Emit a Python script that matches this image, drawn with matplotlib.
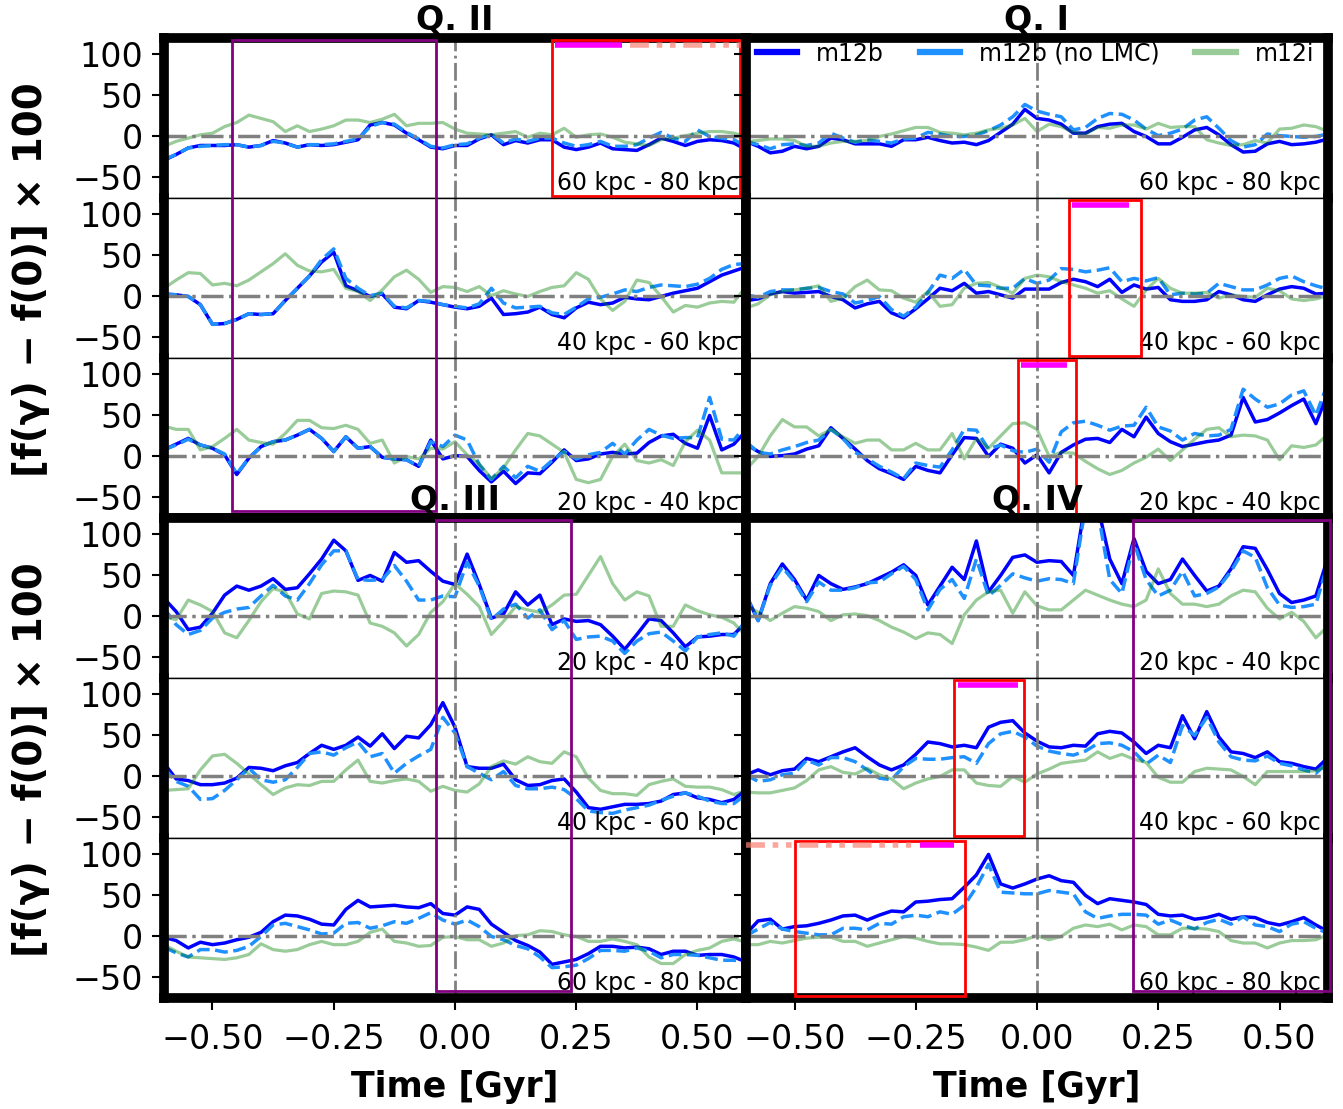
import numpy as np
import matplotlib
matplotlib.use('Agg')
import matplotlib.pyplot as plt
from matplotlib.patches import Rectangle

time = np.round(np.linspace(-0.6, 0.6, 49), 3)

# Q. II
q2_6080_b = [-29, -22, -14, -11, -11, -11, -10, -13, -11, -5, -8, -13, -10, -11, -10, -7, -4, 14, 17, 14, 4, -4, -13, -15, -11, -11, -3, 2, -10, -5, -8, -4, -4, -13, -16, -13, -8, -15, -16, -17, -10, -2, -6, -11, -6, -4, -5, -8, -16]
q2_6080_n = [-28, -22, -14, -12, -11, -10, -10, -13, -11, -6, -8, -13, -10, -10, -9, -6, -3, 12, 17, 15, 5, -3, -12, -14, -10, -9, -2, 3, -8, -3, -6, -2, -2, -8, -12, -10, -6, -12, -12, -10, -2, 5, -2, -6, 8, 0, -2, -4, -12]
q2_6080_i = [-12, -6, -2, 2, 4, 12, 17, 26, 22, 18, 6, 13, 6, 9, 13, 20, 20, 17, 21, 27, 13, 16, 16, 17, 9, 4, 3, 2, 4, 6, -1, 4, 2, 10, -1, 2, 3, -1, -7, -9, -11, -4, -2, 1, 4, 6, 6, 4, 0]

q2_4060_b = [3, 2, 0, -10, -34, -33, -28, -21, -22, -21, -5, 10, 25, 42, 54, 13, 7, 0, 3, -13, -15, -5, -7, -10, -13, -15, -12, -2, -22, -21, -19, -13, -22, -26, -14, -7, -10, -8, -1, -3, -4, 0, 4, 7, 10, 18, 26, 31, 36]
q2_4060_n = [3, 2, 0, -10, -34, -33, -28, -21, -22, -21, -5, 10, 25, 45, 58, 22, 10, 1, 4, -12, -14, -5, -6, -10, -12, -14, -9, 10, -8, -14, -13, -12, -20, -22, -13, -3, -1, 3, 8, 6, 11, 14, 13, 12, 15, 22, 33, 39, 40]
q2_4060_i = [10, 20, 29, 28, 14, 16, 13, 20, 30, 40, 52, 38, 31, 30, 33, 10, 6, -5, 8, 24, 32, 21, 5, 12, 11, 6, 12, 1, 7, 3, 0, 6, 11, 13, 29, 21, -3, -17, -6, 20, 17, 0, -19, -11, -13, -8, -6, -7, 12]

q2_2040_b = [8, 15, 22, 14, 10, 2, -22, -2, 12, 18, 20, 26, 33, 22, 6, 24, 10, 12, -1, -3, -4, -12, 20, -3, 1, 0, -17, -31, -18, -33, -20, -21, -7, 8, -5, -3, 3, 5, 3, 4, 17, 25, 27, 16, 10, 50, 8, 15, 31]
q2_2040_n = [8, 14, 21, 14, 10, 3, -21, -2, 12, 18, 20, 26, 33, 22, 6, 24, 10, 12, -1, -3, -4, -12, 18, 12, 26, 20, -10, -28, -12, -26, -12, -18, -5, 6, -3, 2, 5, 16, 3, 20, 33, 26, 22, 23, 23, 72, 21, 20, 38]
q2_2040_i = [37, 33, 33, 8, 12, 22, 33, 20, 17, 15, 28, 44, 44, 35, 34, 38, 33, 16, 20, -8, 0, -3, 10, 9, 18, 2, -9, -27, -14, 8, 28, 25, 15, 5, -28, -32, -28, 0, 15, -5, -8, -4, -11, 18, 32, 20, -20, -20, -20]

# Q. I
q1_6080_b = [-6, -12, -20, -18, -12, -15, -12, -2, -4, -9, -9, -9, -12, -4, -4, -1, -5, -8, -7, -10, -5, 5, 15, 33, 22, 20, 15, 4, 4, 12, 15, 16, 6, 0, -9, -9, -1, 8, 11, 2, -10, -19, -18, -9, -6, -10, -9, -7, -3]
q1_6080_n = [-6, -10, -15, -10, -9, -11, -8, 4, -2, -7, -4, -6, -8, -3, -2, 5, 3, 0, 0, 2, 7, 14, 24, 39, 31, 27, 24, 8, 11, 22, 28, 27, 20, 9, 1, 4, 9, 20, 24, 10, -5, -13, -10, 3, 1, 0, -1, 0, 3]
q1_6080_i = [-6, -5, -3, -3, -5, -12, -12, -8, -6, -6, -5, 0, 3, 7, 11, 11, 5, 4, 2, 4, 8, 10, 14, 22, 6, 15, 12, 5, 3, 11, 10, 14, 14, 9, 16, 11, 12, 12, -4, -8, -11, -10, -5, -8, 9, 10, 14, 12, 6]

q1_4060_b = [-5, -3, 3, 6, 4, 5, 6, 0, -4, -14, -9, -6, -20, -26, -15, -3, 10, 7, 16, 4, 6, 2, -2, 9, 9, 9, 17, 21, 18, 12, 21, 5, 14, 9, 11, -4, -6, -6, -4, 6, 2, -4, -6, 2, 9, 12, 10, 3, 4]
q1_4060_n = [2, -1, 6, 8, 8, 10, 11, 6, 3, -8, -5, 0, -16, -24, -13, 5, 26, 22, 33, 14, 13, 10, 10, 22, 16, 20, 34, 33, 30, 32, 35, 18, 22, 19, 23, 2, 4, 3, 4, 16, 12, 8, 8, 14, 22, 25, 18, 13, 9]
q1_4060_i = [-14, -9, 2, 6, 8, 10, 13, -6, -2, 12, 20, 8, 7, -2, -7, 6, -12, -10, 10, 16, 17, 11, 4, 22, 26, 24, 18, 14, 10, 4, 7, -3, -12, 8, 22, 10, 4, 4, 5, -2, 2, 0, -1, 10, 7, -3, -5, -3, 1]

q1_2040_b = [15, 6, 0, 1, 3, 9, 13, 35, 22, 9, -5, -15, -21, -28, -12, -17, -20, 2, 23, 22, 0, 15, 10, -8, 2, -20, 5, 14, 21, 22, 17, 33, 24, 48, 28, 18, 12, 15, 18, 20, 26, 72, 42, 45, 53, 62, 70, 40, 78]
q1_2040_n = [18, 5, 3, 8, 12, 17, 20, 33, 22, 5, -3, -12, -19, -27, -8, -11, -13, 8, 33, 32, 9, 14, 7, 5, 9, -7, 30, 41, 43, 38, 32, 37, 38, 60, 36, 31, 20, 28, 25, 26, 33, 82, 70, 60, 64, 75, 80, 50, 90]
q1_2040_i = [-16, 0, 25, 45, 36, 36, 25, 33, 24, 16, 20, 20, 8, 8, 16, 8, 8, 28, -3, 22, 10, 25, 40, 41, 33, 0, 5, 4, -6, -15, -22, -17, -8, -1, 9, -5, 8, 21, 33, 35, 24, 26, 25, 20, -4, 13, 11, 14, 27]

# Q. III
q3_2040_b = [22, 6, -16, -13, 4, 26, 37, 32, 37, 46, 33, 35, 52, 70, 93, 80, 44, 50, 43, 78, 66, 68, 55, 43, 39, 76, 39, -2, 3, 30, 14, 26, -10, -3, -6, -5, -10, -24, -40, -22, -3, -5, -20, -37, -25, -24, -22, -22, -7]
q3_2040_n = [10, -10, -22, -17, -2, 5, 9, 11, 25, 38, 25, 20, 40, 63, 80, 80, 45, 44, 45, 62, 43, 20, 20, 25, 24, 66, 37, -4, 9, 15, -2, 8, -16, -5, -28, -25, -24, -30, -45, -30, -21, -19, -30, -42, -25, -22, -20, -24, -5]
q3_2040_i = [0, -4, 20, 14, 6, -20, -26, -5, 18, 34, 30, 3, -3, 28, 31, 30, 26, -8, -12, -20, -36, -22, 5, 18, 40, 27, 12, -22, -6, 12, 8, 5, 14, 26, 27, 50, 73, 40, 20, 30, 25, -12, -12, 14, 7, 2, -1, -8, -24]

q3_4060_b = [16, -3, -5, -10, -10, -8, -2, 11, 10, 7, 13, 17, 28, 38, 33, 38, 48, 37, 52, 34, 49, 47, 63, 90, 60, 12, 10, 10, 15, -4, -11, -10, -5, -3, -19, -38, -40, -37, -34, -34, -33, -30, -22, -20, -26, -28, -32, -28, -16]
q3_4060_n = [10, -6, -12, -28, -27, -17, -4, 10, -4, -7, -4, 11, 28, 30, 26, 35, 42, 24, 28, 4, 16, 25, 33, 72, 53, 12, 4, -4, 6, -11, -15, -15, -13, -16, -27, -42, -44, -45, -41, -38, -35, -29, -24, -20, -24, -30, -33, -33, -22]
q3_4060_i = [-17, -16, -15, 8, 25, 27, 16, 3, -10, -22, -14, -10, -11, -6, -6, 8, 20, -6, -8, -5, -3, -6, -18, -12, -17, -19, -9, 12, 19, 15, 24, 18, 16, 30, 24, -2, -17, -21, -21, -23, -10, -6, -3, -12, -13, -13, -16, -22, -17]

q3_6080_b = [-1, -5, -14, -7, -10, -8, -4, -1, 5, 18, 26, 25, 21, 15, 14, 33, 44, 36, 37, 38, 36, 35, 40, 28, 26, 36, 33, 15, 5, -5, -11, -19, -34, -31, -28, -21, -12, -12, -14, -13, -15, -22, -18, -18, -23, -22, -22, -25, -31]
q3_6080_n = [-13, -20, -25, -16, -16, -19, -17, -12, 0, 14, 16, 12, 8, 3, 4, 16, 17, 10, 13, 18, 16, 22, 29, 20, 15, 20, 12, 0, -4, -11, -15, -25, -38, -37, -35, -27, -17, -17, -18, -14, -18, -26, -22, -22, -23, -26, -29, -29, -31]
q3_6080_i = [-10, -18, -25, -26, -27, -28, -26, -22, -9, -16, -18, -16, -10, -6, -10, -10, -6, 5, 9, -6, -8, -12, -11, -1, 0, -4, -4, -12, -8, 1, 2, 7, 6, 2, 0, -6, -6, -3, -6, -10, -25, -33, -33, -22, -17, -14, -6, -3, -7]

# Q. IV
q4_2040_b = [26, -5, 40, 64, 45, 20, 50, 40, 33, 36, 40, 47, 54, 63, 50, 14, 37, 60, 45, 92, 30, 50, 72, 75, 66, 68, 67, 50, 140, 135, 70, 40, 95, 55, 40, 45, 70, 50, 31, 37, 58, 85, 83, 57, 28, 17, 20, 25, 72]
q4_2040_n = [26, -5, 38, 60, 42, 18, 42, 32, 32, 35, 41, 42, 52, 61, 45, 8, 33, 45, 22, 70, 25, 38, 52, 47, 43, 46, 45, 40, 135, 130, 45, 28, 90, 45, 25, 32, 55, 25, 28, 36, 55, 80, 72, 35, 14, 11, 12, 15, 65]
q4_2040_i = [14, 5, -5, 4, 12, 10, 6, -5, 2, 3, 1, -5, -13, -19, -27, -20, -22, -33, 2, 20, 30, 32, 4, 30, 13, 8, 8, 20, 32, 26, 20, 15, 12, 20, 58, 28, 15, 15, 12, 15, 25, 32, 30, 10, -3, 5, -6, -26, -12]

q4_4060_b = [2, 8, 2, 7, 9, 22, 18, 24, 30, 35, 24, 14, 8, 14, 27, 42, 40, 36, 38, 35, 60, 66, 68, 53, 43, 36, 35, 38, 37, 52, 55, 53, 42, 28, 38, 35, 74, 46, 79, 48, 30, 28, 23, 30, 18, 16, 12, 9, 23]
q4_4060_n = [2, -6, -4, 2, 4, 20, 14, 23, 23, 18, 8, -2, -4, 12, 22, 21, 21, 23, 24, 16, 40, 52, 55, 48, 37, 31, 28, 26, 31, 40, 41, 38, 30, 15, 26, 17, 62, 50, 72, 42, 24, 20, 19, 25, 16, 13, 8, 4, 17]
q4_4060_i = [-19, -20, -20, -17, -14, -5, 8, 12, 5, 3, 10, 2, -3, -15, -8, -3, 0, 8, 8, -8, -11, -12, 0, -7, 3, 9, 16, 18, 20, 30, 22, 27, 21, 17, -1, -7, -7, 6, 10, 9, 8, 0, -10, 6, 6, 6, 6, 7, 13]

q4_6080_b = [3, 19, 21, 9, 12, 13, 16, 20, 25, 26, 20, 26, 31, 30, 42, 43, 45, 46, 60, 75, 100, 64, 59, 64, 70, 74, 68, 66, 50, 40, 46, 44, 42, 39, 27, 25, 26, 21, 23, 27, 21, 24, 23, 17, 14, 18, 23, 14, 6]
q4_6080_n = [1, 9, 17, 9, 6, 4, 2, 2, 10, 10, 8, 16, 15, 24, 26, 24, 30, 27, 38, 60, 88, 54, 53, 52, 52, 56, 54, 52, 30, 22, 25, 27, 27, 26, 15, 20, 14, 9, 17, 21, 15, 24, 14, 12, 6, 15, 18, 10, 4]
q4_6080_i = [-10, -10, -6, -8, -5, -2, -1, -1, -6, -6, -12, -8, -4, 0, -2, -6, -9, -9, -10, -13, -17, -7, -7, -4, 1, -4, 0, 10, 14, 12, 15, 8, 14, 12, 2, 2, 10, 10, 9, 6, -5, -8, -8, -14, -8, -5, -5, -4, 2]

rows = [
    ['60 kpc - 80 kpc', (q2_6080_b, q2_6080_n, q2_6080_i), (q1_6080_b, q1_6080_n, q1_6080_i)],
    ['40 kpc - 60 kpc', (q2_4060_b, q2_4060_n, q2_4060_i), (q1_4060_b, q1_4060_n, q1_4060_i)],
    ['20 kpc - 40 kpc', (q2_2040_b, q2_2040_n, q2_2040_i), (q1_2040_b, q1_2040_n, q1_2040_i)],
    ['20 kpc - 40 kpc', (q3_2040_b, q3_2040_n, q3_2040_i), (q4_2040_b, q4_2040_n, q4_2040_i)],
    ['40 kpc - 60 kpc', (q3_4060_b, q3_4060_n, q3_4060_i), (q4_4060_b, q4_4060_n, q4_4060_i)],
    ['60 kpc - 80 kpc', (q3_6080_b, q3_6080_n, q3_6080_i), (q4_6080_b, q4_6080_n, q4_6080_i)],
]

W, H = 1343, 1109
fig = plt.figure(figsize=(W / 100, H / 100), dpi=100)
axes = fig.subplots(6, 2, sharex=True, gridspec_kw=dict(hspace=0, wspace=0))
fig.subplots_adjust(left=164 / W, right=1328 / W, top=1 - 38 / H, bottom=1 - 998 / H)

YLO, YHI = -75, 120
for r in range(6):
    for c in range(2):
        ax = axes[r][c]
        b, n, i = rows[r][1 + c]
        ax.plot(time, b, color='blue', lw=2.5, label='m12b')
        ax.plot(time, n, color='dodgerblue', ls='--', lw=2.5, label='m12b (no LMC)')
        ax.plot(time, i, color='green', alpha=0.4, lw=2.3, label='m12i')
        ax.axhline(0, color='gray', ls='-.', lw=2.5)
        ax.axvline(0, color='gray', ls='-.', lw=2)
        ax.set_xlim(-0.6, 0.6)
        ax.set_ylim(YLO, YHI)
        ax.set_yticks([-50, 0, 50, 100])
        ax.set_xticks([-0.5, -0.25, 0, 0.25, 0.5])
        ax.tick_params(labelsize=24, direction='out', length=8.5, width=1.5)
        ax.tick_params(axis='y', pad=6.5)
        ax.tick_params(axis='x', pad=9.5)
        if c == 1:
            ax.tick_params(labelleft=False)
        if r < 5:
            ax.tick_params(axis='x', length=0)
        for s in ['left', 'right']:
            ax.spines[s].set_linewidth(7)
        ax.spines['top'].set_linewidth(7 if r in (0, 3) else 1)
        ax.spines['bottom'].set_linewidth(7 if r in (2, 5) else 1)
        ax.text(0.988, 0.05, rows[r][0], transform=ax.transAxes,
                ha='right', va='baseline', fontsize=17)

axes[0][0].set_title('Q. II', fontsize=24, fontweight='bold')
axes[0][1].set_title('Q. I', fontsize=24, fontweight='bold')
axes[3][0].set_title('Q. III', fontsize=24, fontweight='bold')
axes[3][1].set_title('Q. IV', fontsize=24, fontweight='bold')
for c in range(2):
    axes[5][c].set_xlabel('Time [Gyr]', fontsize=25, fontweight='bold', labelpad=10)

for yc in (280, 760):
    fig.text(31 / W, 1 - yc / H, '[f(γ) − f(0)] × 100', rotation=90,
             ha='center', va='center', fontsize=28, fontweight='bold')

leg = axes[0][1].legend(loc='upper left', bbox_to_anchor=(0.012, 1, 0.97, 0), mode='expand',
                        ncol=3, frameon=False, fontsize=17, handlelength=1.7,
                        borderaxespad=0, borderpad=0.15)
for ln in leg.get_lines():
    ln.set_linewidth(4.5)
    ln.set_linestyle('-')

# boxes spanning a whole quadrant (drawn from its bottom panel)
span = 2 * (YHI - YLO)
for (r, c, t0, t1) in [(2, 0, -0.46, -0.04), (5, 0, -0.04, 0.24), (5, 1, 0.198, 0.605)]:
    axes[r][c].add_patch(Rectangle((t0, -67), t1 - t0, 118 + span + 67, fill=False,
                                   ec='purple', lw=2, clip_on=False, zorder=3))

# single-panel boxes with the bar on top
for (r, c, t0, t1, m0, m1, top) in [(0, 0, 0.2, 0.588, 0.206, 0.344, 118),
                                    (1, 1, 0.066, 0.214, 0.072, 0.19, 118),
                                    (2, 1, -0.04, 0.08, -0.034, 0.062, 118),
                                    (4, 1, -0.171, -0.027, -0.163, -0.04, 118),
                                    (5, 1, -0.499, -0.149, -0.241, -0.171, 116)]:
    ax = axes[r][c]
    ax.add_patch(Rectangle((t0, -72), t1 - t0, top + 72, fill=False, ec='red',
                           lw=2, clip_on=False, zorder=3))
    ax.plot([m0, m1], [111.5, 111.5], color='magenta', lw=4, solid_capstyle='butt', zorder=3)

axes[0][0].plot([0.36, 0.6], [111.5, 111.5], color='salmon', alpha=0.7, lw=4,
                ls=(0, (3.4, 1.4, 1, 1.4, 1, 1.4)), zorder=3)
axes[5][1].plot([-0.6, -0.26], [111.5, 111.5], color='salmon', alpha=0.7, lw=4,
                ls=(0, (3.4, 1.4, 1, 1.4, 1, 1.4)), zorder=3)

plt.savefig('out.png', dpi=100)
